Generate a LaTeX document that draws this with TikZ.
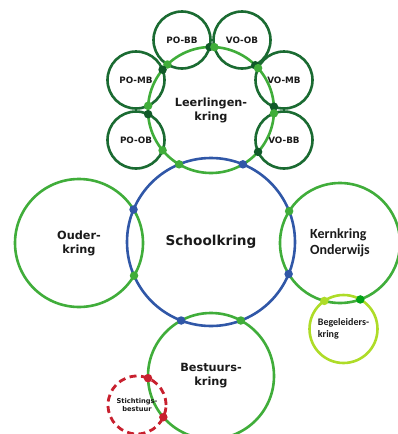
\documentclass[tikz,border=0pt]{standalone}
\usepackage{fontspec}
\setmainfont{DejaVu Sans}
\newfontfamily\calfont{Carlito}
\usetikzlibrary{calc}
\definecolor{cblue}{HTML}{3057A7}
\definecolor{cgreen}{HTML}{40AD3A}
\definecolor{cdark}{HTML}{1B6B32}
\definecolor{cdarkdot}{HTML}{105A28}
\definecolor{cyellow}{HTML}{AEDC28}
\definecolor{cbright}{HTML}{00A316}
\definecolor{cred}{HTML}{C8202E}
\definecolor{ctext}{HTML}{1A1A1A}
\newcommand\idot[6]{%
  \path let \p1=(#1), \p2=(#3),
    \n1={veclen(\x2-\x1,\y2-\y1)},
    \n2={atan2(\y2-\y1,\x2-\x1)},
    \n3={acos(\n1/(2*#2)+((#2-#4)/\n1)*((#2+#4)/(2*#2)))}
  in ($(#1)+(\n2#5\n3:#2pt)$) node[idotstyle,fill=#6]{};}
\begin{document}
\begin{tikzpicture}[x=1pt,y=-1pt,
  ring/.style={circle,draw,line width=2.6pt,inner sep=0pt,text=ctext,font=\bfseries,align=center},
  small/.style={ring,draw=cdark,minimum size=57pt,font=\bfseries\fontsize{8.8}{10}\selectfont},
  big/.style={ring,draw=cgreen,font=\bfseries\fontsize{11.3}{14}\selectfont},
  idotstyle/.style={circle,inner sep=0pt,minimum size=8.5pt,draw=none}]
\useasboundingbox (0,0) rectangle (398,434);
% small circles
\node[small] (pobb) at (182,40) {PO-BB};
\node[small] (voob) at (242,40) {VO-OB};
\node[small] (pomb) at (136,80) {PO-MB};
\node[small] (vomb) at (284,80) {VO-MB};
\node[small] (poob) at (136,140) {PO-OB};
\node[small] (vobb) at (284,140) {VO-BB};
% Leerlingenkring
\node[big,minimum size=126pt] (L) at (211,110) {Leerlingen-\\kring};
% other rings
\node[big,minimum size=128pt] (O) at (79,243) {Ouder-\\kring};
\node[big,minimum size=120pt,font=\calfont\bfseries\fontsize{14}{15.5}\selectfont,align=left] (K) at (340,243) {Kernkring\\Onderwijs};
\node[ring,draw=cyellow,minimum size=68pt,font=\calfont\bfseries\fontsize{10}{12}\selectfont,align=left] (G) at (343.5,329) {Begeleiders-\\kring};
\node[big,minimum size=126pt] (B) at (211,376) {Bestuurs-\\kring};
\node[ring,draw=cred,line width=2.8pt,dash pattern=on 7pt off 4.5pt,minimum size=58pt,font=\bfseries\fontsize{6.7}{8}\selectfont] (S) at (137,405) {Stichtings-\\bestuur};
\node[ring,draw=cblue,minimum size=168pt,font=\bfseries\fontsize{13.6}{16}\selectfont] (C) at (211,242) {Schoolkring};
% dots on Leerlingenkring
\foreach \s in {pobb,voob,pomb,vomb,poob,vobb}{
  \idot{L}{63}{\s}{28.5}{+}{cgreen}
  \idot{L}{63}{\s}{28.5}{-}{cdarkdot}
}
% dots on Schoolkring
\idot{C}{84}{L}{63}{+}{cgreen}
\idot{C}{84}{L}{63}{-}{cblue}
\idot{C}{84}{K}{60}{+}{cgreen}
\idot{C}{84}{K}{60}{-}{cblue}
\idot{C}{84}{B}{63}{+}{cgreen}
\idot{C}{84}{B}{63}{-}{cblue}
\idot{C}{84}{O}{64}{+}{cgreen}
\idot{C}{84}{O}{64}{-}{cblue}
% Kern / Begeleiders
\idot{K}{60}{G}{34}{-}{cyellow}
\idot{K}{60}{G}{34}{+}{cbright}
% Bestuurs / Stichting
\idot{B}{63}{S}{29}{+}{cred}
\idot{B}{63}{S}{29}{-}{cred}
\end{tikzpicture}
\end{document}
